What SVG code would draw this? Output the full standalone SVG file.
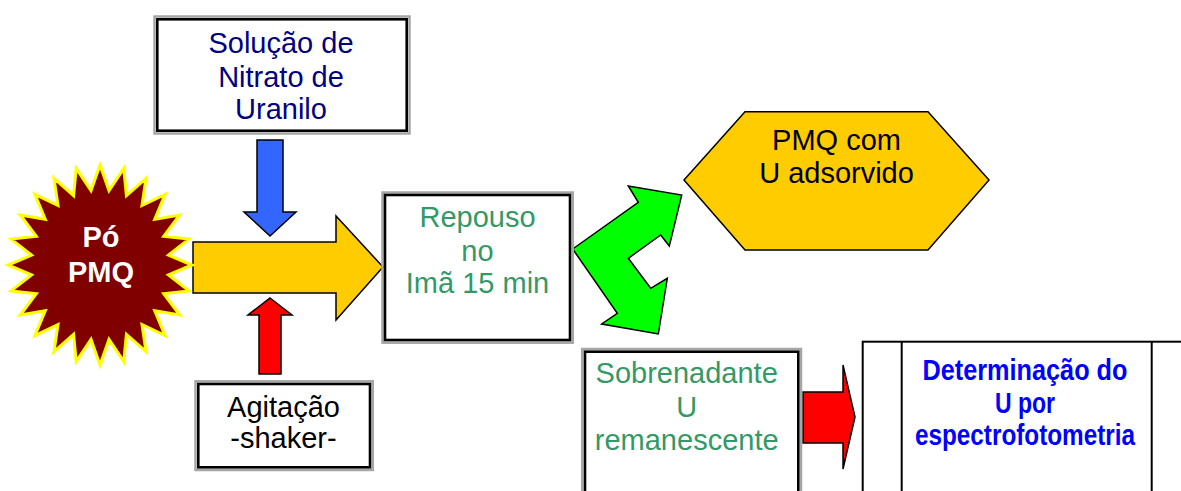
<svg xmlns="http://www.w3.org/2000/svg" width="1181" height="491" viewBox="0 0 1181 491">
<style>
.t{font-family:"Liberation Sans",Arial,sans-serif;font-size:29px;text-anchor:middle}
.ring{fill:none;stroke:#A6A6A6;stroke-width:2.5}
.box{fill:#FFFFFF;stroke:#000000;stroke-width:2.6}
.arr{stroke:#000000;stroke-width:1.5;stroke-linejoin:miter}
</style>
<rect width="1181" height="491" fill="#FFFFFF"/>
<g id="connectors">
<polygon class="arr" fill="#3366FF" points="257,140 283,140 283,212 296,212 270,236 244,212 257,212"/>
<polygon class="arr" fill="#FF0000" points="270,298 292,315 281,315 281,374 259,374 259,315 248,315"/>
<polygon class="arr" fill="#FFCC00" points="193,242 336,242 336,216 383,267 336,320 336,293 193,293"/>
<polygon class="arr" fill="#00FF00" points="572.7,249 638.3,202.3 628.3,186 681.7,195 669.3,246 660.7,235 628.3,258.3 650.7,288.3 667.3,278.3 658.3,334 601.7,324 617.3,313.3"/>
<polygon class="arr" fill="#FF0000" points="803,392 843,392 843,365 855,417 843,469 843,443 803,443"/>
</g>
<g id="star">
<polygon fill="#800000" stroke="#FFFF00" stroke-width="3" stroke-linejoin="miter" points="192,265 168.4,274.8 188.9,290.9 163.7,293.7 179.7,315 154.7,310.7 165.1,335.7 142,324.5 146,351.6 126.4,334.3 123.8,361.6 109,339.4 100,365 91,339.4 76.2,361.6 73.6,334.3 54,351.6 58,324.5 34.9,335.7 45.3,310.7 20.3,315 36.3,293.7 11.1,290.9 31.6,274.8 8,265 31.6,255.2 11.1,239.1 36.3,236.3 20.3,215 45.3,219.3 34.9,194.3 58,205.5 54,178.4 73.6,195.7 76.2,168.4 91,190.6 100,165 109,190.6 123.8,168.4 126.4,195.7 146,178.4 142,205.5 165.1,194.3 154.7,219.3 179.7,215 163.7,236.3 188.9,239.1 168.4,255.2"/>
<text class="t" x="101" y="247" fill="#FFFFFF" font-weight="bold" font-size="30">Pó</text>
<text class="t" x="101" y="282" fill="#FFFFFF" font-weight="bold" font-size="31">PMQ</text>
</g>
<g id="nitrato">
<rect class="ring" x="154.5" y="16.5" width="255" height="117"/>
<rect class="box" x="157.3" y="19.3" width="249.4" height="111.4"/>
<text class="t" x="281" y="53" fill="#000080">Solução de</text>
<text class="t" x="281" y="87" fill="#000080">Nitrato de</text>
<text class="t" x="281" y="118.5" fill="#000080">Uranilo</text>
</g>
<g id="agitacao">
<rect class="ring" x="195.5" y="381.3" width="177.3" height="88.7"/>
<rect class="box" x="198.3" y="384" width="171.7" height="83.3"/>
<text class="t" x="283.5" y="417" fill="#000000">Agitação</text>
<text class="t" x="283.5" y="448.3" fill="#000000">-shaker-</text>
</g>
<g id="repouso">
<rect class="ring" x="382.5" y="192.5" width="190.3" height="150.2"/>
<rect class="box" x="385" y="195" width="185" height="145"/>
<text class="t" x="477.5" y="226.7" fill="#339966">Repouso</text>
<text class="t" x="477.5" y="260.7" fill="#339966">no</text>
<text class="t" x="477.5" y="293.3" fill="#339966">Imã 15 min</text>
</g>
<g id="pmq-adsorvido">
<polygon fill="#FFCC00" stroke="#000000" stroke-width="1.5" points="745,111.7 928,111.7 989,180 928,250 745,250 684,180"/>
<text class="t" x="836.5" y="150" fill="#000000">PMQ com</text>
<text class="t" x="836.5" y="183" fill="#000000">U adsorvido</text>
</g>
<g id="sobrenadante">
<rect class="ring" x="582.2" y="349" width="218.8" height="160"/>
<rect class="box" x="585" y="351.7" width="213.3" height="160"/>
<text class="t" x="686.7" y="383.3" fill="#339966">Sobrenadante</text>
<text class="t" x="686.7" y="416.5" fill="#339966">U</text>
<text class="t" x="686.7" y="450" fill="#339966">remanescente</text>
</g>
<g id="determinacao">
<rect x="862.7" y="341.7" width="340" height="200" fill="#FFFFFF" stroke="#000000" stroke-width="2"/>
<line x1="901.7" y1="341.7" x2="901.7" y2="491" stroke="#000000" stroke-width="2"/>
<line x1="1151.7" y1="341.7" x2="1151.7" y2="491" stroke="#000000" stroke-width="2"/>
<text class="t" x="1025" y="380" fill="#0000FF" font-weight="bold" textLength="205" lengthAdjust="spacingAndGlyphs">Determinação do</text>
<text class="t" x="1025" y="413" fill="#0000FF" font-weight="bold" textLength="60" lengthAdjust="spacingAndGlyphs">U por</text>
<text class="t" x="1025" y="445" fill="#0000FF" font-weight="bold" textLength="220" lengthAdjust="spacingAndGlyphs">espectrofotometria</text>
</g>
</svg>
